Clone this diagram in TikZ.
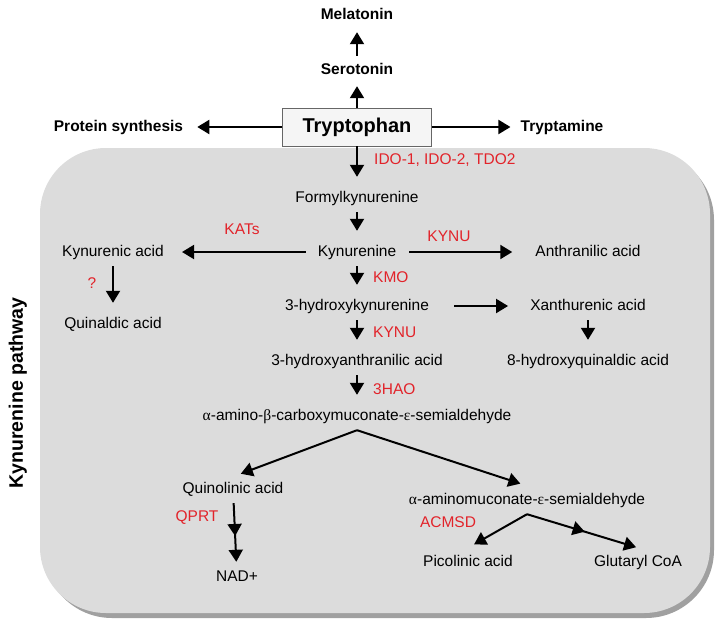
\documentclass[tikz,border=0pt]{standalone}
\usepackage{fontspec}
\setmainfont{Liberation Sans}
\newfontfamily\grk{Liberation Serif}
\usetikzlibrary{arrows.meta,decorations.markings}
\definecolor{enzred}{RGB}{226,35,42}
\definecolor{boxgray}{RGB}{220,220,220}
\definecolor{shadowgray}{RGB}{160,160,160}

\begin{document}
\begin{tikzpicture}[
                    x=1pt, y=-1pt,
                    every node/.style={
                        font=\fontsize{15.5}{18}\selectfont,
                        text height=11pt,
                        text depth=3pt,
                        inner xsep=7pt,
                        inner ysep=7pt
                    },
                    bold/.style={font=\fontsize{15.5}{18}\selectfont\bfseries},
                    enz/.style={text=enzred, inner sep=0pt},
                    arr/.style={line width=2pt, -{Triangle[length=12pt,width=14pt]}, shorten >=7pt},
                    midarr/.style={postaction={decorate}, decoration={markings,
                        mark=at position #1 with {\arrow{Triangle[length=12pt,width=14pt]}}}}
                ]
                    \useasboundingbox (0,0) rectangle (723,627);

                    % Pathway box
                    \fill[shadowgray, rounded corners=68pt] (44,152) rectangle (714,618);
                    \fill[boxgray, rounded corners=66pt] (40,148) rectangle (710,613);
                    \node[font=\fontsize{19.5}{22}\selectfont\bfseries, rotate=90] (pathway) at (19,393) {Kynurenine pathway};

                    % Outside the pathway
                    \node[bold] (mel) at (357,15) {Melatonin};
                    \node[bold] (sero) at (357,70) {Serotonin};
                    \node[draw=black!60, line width=0.8pt, fill=black!4, font=\fontsize{20}{22}\selectfont\bfseries,
                          text height=14pt, text depth=4pt, minimum width=149pt, minimum height=38pt, inner sep=0pt] (try) at (357,127) {Tryptophan};
                    \node[bold] (prot) at (118.5,127) {Protein synthesis};
                    \node[bold] (tryp) at (562,127) {Tryptamine};

                    % Metabolites
                    \node (formyl) at (357,198) {Formylkynurenine};
                    \node (kyn) at (357,252) {Kynurenine};
                    \node (kyna) at (113,252) {Kynurenic acid};
                    \node (anth) at (588,252) {Anthranilic acid};
                    \node (quinal) at (113,324) {Quinaldic acid};
                    \node (hk) at (357,306) {3-hydroxykynurenine};
                    \node (xan) at (588,306) {Xanthurenic acid};
                    \node (hq) at (588,361) {8-hydroxyquinaldic acid};
                    \node (ha) at (357,361) {3-hydroxyanthranilic acid};
                    \node (acms) at (357,416) {{\grk α}-amino-{\grk β}-carboxymuconate-{\grk ε}-semialdehyde};
                    \node (quin) at (233,489) {Quinolinic acid};
                    \node (nad) at (237,577) {NAD+};
                    \node (ams) at (527,500) {{\grk α}-aminomuconate-{\grk ε}-semialdehyde};
                    \node (pic) at (468,562) {Picolinic acid};
                    \node (glu) at (638,562) {Glutaryl CoA};

                    % Enzymes
                    \node[enz, anchor=west] (ido) at (374,160) {IDO-1, IDO-2, TDO2};
                    \node[enz] (kats) at (242,230) {KATs};
                    \node[enz] (kynua) at (449,237) {KYNU};
                    \node[enz, anchor=west] (kmo) at (373,278) {KMO};
                    \node[enz, anchor=west] (kynub) at (373,333) {KYNU};
                    \node[enz, anchor=west] (hao) at (373,390) {3HAO};
                    \node[enz] (unk) at (92,284) {?};
                    \node[enz] (qprt) at (197,517) {QPRT};
                    \node[enz] (acmsd) at (448,523) {ACMSD};

                    % Edges
                    \draw[arr, shorten >=3pt] (sero) -- (mel);
                    \draw[arr, shorten >=2pt] (try) -- (sero);
                    \draw[arr] (try) -- (prot);
                    \draw[arr, shorten >=3pt] (try) -- (tryp);
                    \draw[arr] (try) -- (formyl);
                    \draw[arr] (formyl) -- (kyn);
                    \draw[arr, shorten <=5pt, shorten >=11pt] (kyn) -- (kyna);
                    \draw[arr, shorten <=6pt, shorten >=16pt] (kyn) -- (anth);
                    \draw[arr] (kyna) -- (quinal);
                    \draw[arr] (kyn) -- (hk);
                    \draw[arr, shorten <=18pt, shorten >=15pt] (hk) -- (xan);
                    \draw[arr] (xan) -- (hq);
                    \draw[arr] (hk) -- (ha);
                    \draw[arr] (ha) -- (acms);
                    \draw[arr, shorten >=3pt] (acms.south) -- ([xshift=5pt]quin.north);
                    \draw[arr] (acms.south) -- (ams.north);
                    \draw[arr, shorten >=1pt, midarr=0.55] (quin) -- (nad);
                    \draw[arr] (ams.south) -- (pic.north);
                    \draw[arr, shorten >=2pt, midarr=0.52] (ams.south) -- (glu.north);
                \end{tikzpicture}
\end{document}
